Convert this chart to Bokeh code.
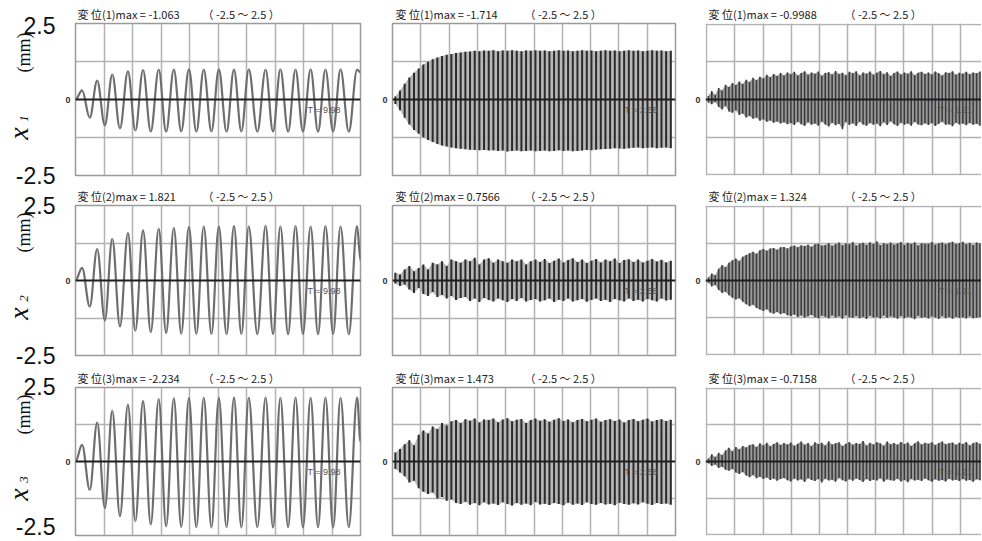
import numpy as np
from bokeh.plotting import figure
from bokeh.layouts import column, row
from bokeh.models import Range1d, FixedTicker, Label, Span, Grid, ColumnDataSource
from bokeh.core.properties import value
from bokeh.embed import file_html
from bokeh.resources import INLINE

# ---------------- data ----------------
subscripts = ["1", "2", "3"]
max_values = [["-1.063", "-1.714", "-0.9988"],
              ["1.821", "0.7566", "1.324"],
              ["-2.234", "1.473", "-0.7158"]]
range_text = "（ -2.5 ～ 2.5 ）"
t_labels = ["T = 9.98", "T = 2.58", "T = 1.21"]
y_top_label = "2.5"
y_bottom_label = "-2.5"

# column 1: times (s) of the extrema of the slow oscillation
col1_t = [0.0, 0.23, 0.50, 0.76, 1.03, 1.29, 1.56, 1.84, 2.10, 2.37, 2.64, 2.92, 3.18,
          3.45, 3.71, 3.98, 4.24, 4.50, 4.77, 5.03, 5.30, 5.56, 5.82, 6.08, 6.38, 6.67,
          6.93, 7.19, 7.46, 7.72, 7.98, 8.25, 8.51, 8.77, 9.04, 9.30, 9.59, 9.88, 10.0]
col1_x1 = [0, 0.30, -0.60, 0.62, -0.85, 0.82, -0.95, 0.93, -1.02, 0.97, -1.05, 0.98, -1.06,
           0.98, -1.05, 0.99, -1.06, 0.98, -1.05, 0.99, -1.06, 0.98, -1.05, 0.99, -1.06, 0.98,
           -1.05, 0.99, -1.06, 0.98, -1.05, 0.99, -1.06, 0.98, -1.05, 0.99, -1.06, 0.98, 0.90]
col1_x2 = [0, 0.42, -0.87, 1.05, -1.33, 1.39, -1.53, 1.58, -1.67, 1.67, -1.72, 1.72, -1.75,
           1.75, -1.77, 1.78, -1.78, 1.80, -1.78, 1.80, -1.79, 1.81, -1.78, 1.80, -1.79, 1.82,
           -1.78, 1.80, -1.79, 1.81, -1.78, 1.80, -1.79, 1.81, -1.78, 1.80, -1.79, 1.81, 0.67]
col1_x3 = [0, 0.56, -0.96, 1.31, -1.57, 1.71, -1.85, 1.91, -2.02, 2.04, -2.13, 2.11, -2.19,
           2.13, -2.21, 2.14, -2.22, 2.15, -2.23, 2.15, -2.22, 2.16, -2.23, 2.15, -2.22, 2.16,
           -2.23, 2.15, -2.22, 2.16, -2.23, 2.15, -2.22, 2.16, -2.23, 2.15, -2.22, 2.16, 0.67]

# column 2: per-cycle peaks / troughs (60 cycles)
col2_t = np.round(0.10 + 0.165 * np.arange(60), 3)
col2_x1_hi = [0.10, 0.30, 0.52, 0.72, 0.88, 1.02, 1.15, 1.24, 1.32, 1.38,
              1.43, 1.47, 1.50, 1.53, 1.55, 1.57, 1.58, 1.60, 1.59, 1.61,
              1.60, 1.62, 1.59, 1.61, 1.60, 1.62, 1.60, 1.59, 1.61, 1.60,
              1.62, 1.60, 1.61, 1.59, 1.60, 1.62, 1.60, 1.61, 1.59, 1.60,
              1.62, 1.60, 1.61, 1.59, 1.60, 1.62, 1.60, 1.61, 1.59, 1.60,
              1.62, 1.60, 1.61, 1.59, 1.60, 1.62, 1.60, 1.61, 1.59, 1.60]
col2_x1_lo = [-0.15, -0.35, -0.60, -0.82, -1.00, -1.13, -1.24, -1.33, -1.40, -1.46,
              -1.51, -1.55, -1.58, -1.60, -1.62, -1.64, -1.65, -1.66, -1.67, -1.66,
              -1.68, -1.67, -1.69, -1.68, -1.71, -1.69, -1.68, -1.70, -1.69, -1.68,
              -1.70, -1.69, -1.68, -1.70, -1.69, -1.67, -1.69, -1.68, -1.70, -1.69,
              -1.68, -1.66, -1.67, -1.65, -1.64, -1.63, -1.62, -1.60, -1.61, -1.62,
              -1.60, -1.59, -1.58, -1.60, -1.59, -1.58, -1.60, -1.59, -1.58, -1.60]
col2_x2_hi = [0.26, 0.20, 0.37, 0.48, 0.31, 0.42, 0.53, 0.37, 0.59, 0.53,
              0.64, 0.48, 0.70, 0.64, 0.59, 0.70, 0.64, 0.76, 0.53, 0.70,
              0.74, 0.59, 0.70, 0.64, 0.59, 0.70, 0.64, 0.70, 0.53, 0.64,
              0.70, 0.62, 0.72, 0.58, 0.66, 0.73, 0.60, 0.68, 0.74, 0.62,
              0.70, 0.58, 0.66, 0.72, 0.60, 0.70, 0.64, 0.73, 0.58, 0.68,
              0.71, 0.62, 0.70, 0.60, 0.66, 0.72, 0.63, 0.69, 0.60, 0.66]
col2_x2_lo = [-0.10, -0.18, -0.13, -0.30, -0.42, -0.25, -0.45, -0.52, -0.38, -0.55,
              -0.48, -0.60, -0.52, -0.65, -0.58, -0.55, -0.68, -0.60, -0.72, -0.58,
              -0.65, -0.70, -0.60, -0.66, -0.72, -0.62, -0.68, -0.58, -0.70, -0.65,
              -0.62, -0.70, -0.66, -0.60, -0.72, -0.64, -0.68, -0.60, -0.70, -0.66,
              -0.62, -0.71, -0.65, -0.60, -0.68, -0.64, -0.72, -0.62, -0.66, -0.70,
              -0.60, -0.68, -0.64, -0.70, -0.62, -0.66, -0.70, -0.60, -0.67, -0.64]
col2_x3_hi = [0.30, 0.42, 0.58, 0.72, 0.55, 0.90, 1.05, 0.95, 1.18, 1.10,
              1.30, 1.22, 1.36, 1.40, 1.30, 1.43, 1.38, 1.45, 1.32, 1.42,
              1.40, 1.45, 1.33, 1.42, 1.46, 1.36, 1.41, 1.44, 1.30, 1.40,
              1.45, 1.38, 1.43, 1.34, 1.41, 1.46, 1.37, 1.42, 1.33, 1.40,
              1.44, 1.36, 1.41, 1.45, 1.34, 1.40, 1.43, 1.37, 1.42, 1.32,
              1.40, 1.44, 1.36, 1.41, 1.45, 1.35, 1.40, 1.43, 1.37, 1.41]
col2_x3_lo = [-0.25, -0.37, -0.50, -0.71, -0.65, -0.90, -1.02, -1.10, -1.05, -1.25,
              -1.20, -1.33, -1.28, -1.40, -1.44, -1.36, -1.46, -1.40, -1.48, -1.38,
              -1.45, -1.42, -1.47, -1.38, -1.44, -1.49, -1.40, -1.46, -1.42, -1.48,
              -1.37, -1.45, -1.43, -1.47, -1.40, -1.44, -1.48, -1.39, -1.46, -1.42,
              -1.47, -1.38, -1.44, -1.46, -1.40, -1.45, -1.43, -1.48, -1.39, -1.44,
              -1.46, -1.41, -1.45, -1.38, -1.43, -1.47, -1.40, -1.44, -1.42, -1.46]

# column 3: per-cycle peaks / troughs (80 cycles)
col3_t = np.round(0.06 + 0.122 * np.arange(80), 3)
col3_x1_hi = [0.12, 0.28, 0.15, 0.38, 0.30, 0.49, 0.42, 0.55, 0.48, 0.60, 0.52, 0.66,
              0.58, 0.72, 0.64, 0.76, 0.70, 0.82, 0.74, 0.85, 0.78, 0.88, 0.80, 0.90,
              0.84, 0.92, 0.80, 0.88, 0.94, 0.82, 0.90, 0.86, 0.93, 0.79,
              0.88, 0.91, 0.83, 0.95, 0.85, 0.89, 0.81, 0.92, 0.87, 0.94,
              0.80, 0.90, 0.86, 0.93, 0.82, 0.89, 0.95, 0.84, 0.91, 0.78,
              0.88, 0.93, 0.83, 0.90, 0.86, 0.94, 0.81, 0.89, 0.92, 0.85,
              0.90, 0.83, 0.93, 0.87, 0.80, 0.91, 0.88, 0.94, 0.82, 0.89,
              0.86, 0.92, 0.84, 0.90, 0.87, 0.93]
col3_x1_lo = [-0.10, -0.16, -0.08, -0.25, -0.33, -0.22, -0.40, -0.44, -0.36, -0.52, -0.47, -0.60,
              -0.55, -0.64, -0.60, -0.71, -0.66, -0.74, -0.70, -0.77, -0.73, -0.80, -0.76, -0.82,
              -0.78, -0.85, -0.74, -0.82, -0.88, -0.76, -0.84, -0.80, -0.87, -0.73,
              -0.83, -0.90, -0.77, -0.86, -0.81, -0.99, -0.75, -0.85, -0.79, -0.88,
              -0.74, -0.83, -0.87, -0.78, -0.84, -0.80, -0.89, -0.76, -0.85, -0.72,
              -0.82, -0.88, -0.77, -0.84, -0.80, -0.87, -0.75, -0.83, -0.86, -0.79,
              -0.85, -0.78, -0.88, -0.81, -0.74, -0.84, -0.82, -0.89, -0.77, -0.83,
              -0.80, -0.86, -0.78, -0.84, -0.81, -0.87]
col3_x2_hi = [0.10, 0.24, 0.18, 0.40, 0.52, 0.45, 0.60, 0.68, 0.74, 0.66, 0.80, 0.86,
              0.92, 0.97, 0.90, 1.02, 1.06, 1.00, 1.08, 1.10, 1.04, 1.12, 1.13, 1.08,
              1.15, 1.18, 1.12, 1.19, 1.16, 1.21, 1.14, 1.22, 1.24, 1.18,
              1.20, 1.26, 1.17, 1.23, 1.28, 1.19, 1.25, 1.22, 1.30, 1.18,
              1.24, 1.27, 1.20, 1.29, 1.23, 1.32, 1.19, 1.26, 1.22, 1.28,
              1.21, 1.25, 1.30, 1.20, 1.27, 1.23, 1.29, 1.18, 1.26, 1.24,
              1.24, 1.30, 1.21, 1.26, 1.28, 1.22, 1.27, 1.31, 1.23, 1.26,
              1.31, 1.22, 1.27, 1.20, 1.28, 1.25]
col3_x2_lo = [-0.08, -0.20, -0.15, -0.32, -0.42, -0.38, -0.50, -0.58, -0.64, -0.60, -0.72, -0.80,
              -0.87, -0.82, -0.93, -0.98, -1.03, -0.97, -1.08, -1.12, -1.06, -1.14, -1.10, -1.17,
              -1.20, -1.15, -1.23, -1.18, -1.25, -1.21, -1.16, -1.24, -1.27, -1.19,
              -1.22, -1.28, -1.18, -1.25, -1.21, -1.29, -1.17, -1.24, -1.26, -1.20,
              -1.27, -1.22, -1.30, -1.19, -1.25, -1.23, -1.28, -1.18, -1.26, -1.21,
              -1.24, -1.29, -1.20, -1.27, -1.22, -1.25, -1.31, -1.19, -1.26, -1.23,
              -1.28, -1.21, -1.25, -1.30, -1.20, -1.27, -1.23, -1.29, -1.22, -1.26,
              -1.24, -1.28, -1.21, -1.27, -1.25, -1.23]
col3_x3_hi = [0.10, 0.25, 0.15, 0.30, 0.22, 0.38, 0.47, 0.35, 0.50, 0.42, 0.53, 0.48,
              0.56, 0.59, 0.50, 0.62, 0.55, 0.64, 0.52, 0.60, 0.66, 0.56, 0.63, 0.58,
              0.65, 0.54, 0.61, 0.68, 0.57, 0.63, 0.52, 0.66, 0.60, 0.64,
              0.55, 0.69, 0.58, 0.62, 0.66, 0.53, 0.61, 0.67, 0.57, 0.63,
              0.60, 0.70, 0.55, 0.64, 0.58, 0.66, 0.62, 0.54, 0.68, 0.59,
              0.63, 0.57, 0.67, 0.60, 0.65, 0.53, 0.62, 0.69, 0.58, 0.64,
              0.61, 0.66, 0.56, 0.63, 0.68, 0.59, 0.62, 0.65, 0.57, 0.64,
              0.60, 0.67, 0.55, 0.63, 0.66, 0.61]
col3_x3_lo = [-0.06, -0.15, -0.10, -0.22, -0.18, -0.28, -0.32, -0.26, -0.38, -0.43, -0.36, -0.48,
              -0.54, -0.46, -0.57, -0.52, -0.60, -0.55, -0.63, -0.58, -0.66, -0.60, -0.56, -0.64,
              -0.68, -0.58, -0.65, -0.61, -0.70, -0.57, -0.63, -0.67, -0.60, -0.72,
              -0.59, -0.65, -0.62, -0.69, -0.56, -0.64, -0.68, -0.61, -0.66, -0.58,
              -0.63, -0.70, -0.60, -0.67, -0.62, -0.65, -0.57, -0.69, -0.61, -0.64,
              -0.66, -0.59, -0.68, -0.63, -0.71, -0.60, -0.65, -0.62, -0.67, -0.58,
              -0.64, -0.69, -0.61, -0.66, -0.63, -0.68, -0.59, -0.65, -0.62, -0.67,
              -0.60, -0.66, -0.63, -0.69, -0.61, -0.64]

col1_vals = [col1_x1, col1_x2, col1_x3]
col2_hi = [col2_x1_hi, col2_x2_hi, col2_x3_hi]
col2_lo = [col2_x1_lo, col2_x2_lo, col2_x3_lo]
col3_hi = [col3_x1_hi, col3_x2_hi, col3_x3_hi]
col3_lo = [col3_x1_lo, col3_x2_lo, col3_x3_lo]

# ---------------- layout / style (pixels) ----------------
BLOCK_H = [188, 180, 172]          # height of each row block
STRIP_H = [22, 16, 18]             # header strip above the panels
PANEL_BOT = [13, 13, 5]            # bottom border of the panels
LABEL_W = 62
COL_W = [310, 318, 291]
COL_LEFT = [13, 20, 15]
COL_RIGHT = [12, 15, 0]
COL_XEND = [10.0, 10.0, 9.75]
HEAD_X0 = [77, 395, 708]           # header text positions (page px)
HEAD_X1 = [202, 524, 844]
# left label positions inside the row block (px from block top)
TOP_LBL_Y = [25, 17, 18]
BOT_LBL_Y = [175, 167, 158]
MM_Y = [52, 44, 46]
X_Y = [133, 125, 126]
SUB_Y = [118, 110, 111]

GRID_COLOR = "#b3b3b3"
FRAME_COLOR = "#9a9a9a"
CJK = "Noto Sans CJK JP"


def blank_fig(w, h, xr, yr):
    p = figure(width=w, height=h, x_range=xr, y_range=yr, x_axis_type=None,
               y_axis_type=None, tools="", toolbar_location=None,
               output_backend="svg", min_border=0)
    p.outline_line_color = None
    p.background_fill_color = "white"
    p.border_fill_color = "white"
    return p


def make_label_fig(r):
    h = BLOCK_H[r]
    p = blank_fig(LABEL_W, h, Range1d(0, LABEL_W), Range1d(h, 0))
    big = dict(text_font=value("Liberation Sans"), text_font_size=value("23px"),
               text_align="right", text_baseline="middle", text_color="#111111")
    p.text(x=[55], y=[TOP_LBL_Y[r]], text=[y_top_label], **big)
    p.text(x=[55], y=[BOT_LBL_Y[r]], text=[y_bottom_label], **big)
    p.text(x=[23], y=[MM_Y[r]], text=["(mm)"], angle=np.pi / 2,
           text_font=value("Liberation Serif"), text_font_size=value("18px"),
           text_align="center", text_baseline="middle", text_color="#111111")
    p.text(x=[18], y=[X_Y[r]], text=["x"], angle=np.pi / 2,
           text_font=value("Liberation Serif"), text_font_style="italic",
           text_font_size=value("28px"), text_align="center", text_baseline="middle",
           text_color="#111111")
    p.text(x=[23], y=[SUB_Y[r]], text=[subscripts[r]], angle=np.pi / 2,
           text_font=value("Liberation Serif"), text_font_style="italic",
           text_font_size=value("13px"), text_align="center", text_baseline="middle",
           text_color="#111111")
    return p


def make_strip(r):
    w = sum(COL_W)
    h = STRIP_H[r]
    p = blank_fig(w, h, Range1d(LABEL_W, LABEL_W + w), Range1d(h, 0))
    ty = h - 9
    heads = ["変 位(%d)max = %s" % (r + 1, max_values[r][c]) for c in range(3)]
    p.text(x=HEAD_X0, y=[ty] * 3, text=heads, text_font=value(CJK),
           text_font_size=value("11px"), text_align="left", text_baseline="middle",
           text_color="#222222")
    p.text(x=HEAD_X1, y=[ty] * 3, text=[range_text] * 3, text_font=value(CJK),
           text_font_size=value("11px"), text_align="left", text_baseline="middle",
           text_color="#222222")
    return p


def make_panel(r, c):
    if c < 2:
        xr = Range1d(0, COL_XEND[c])
        yr = Range1d(-2.5, 2.5)
    else:
        xr = Range1d(-0.04, COL_XEND[c])
        yr = Range1d(-2.53, 2.53)
    p = figure(width=COL_W[c], height=BLOCK_H[r] - STRIP_H[r], x_range=xr, y_range=yr,
               x_axis_type=None, tools="", toolbar_location=None,
               output_backend="svg",
               min_border_left=COL_LEFT[c], min_border_right=COL_RIGHT[c],
               min_border_top=1, min_border_bottom=PANEL_BOT[r])
    p.background_fill_color = "white"
    p.border_fill_color = "white"
    if c < 2:
        p.outline_line_color = FRAME_COLOR
        p.outline_line_width = 1.5
        xt = list(range(1, 10))
        yt = [-1.25, 1.25]
    else:
        p.outline_line_color = None
        xt = list(range(0, 10))
        yt = [-2.5, -1.25, 1.25, 2.5]

    # y axis: only the "0" label
    p.yaxis.ticker = FixedTicker(ticks=[0])
    p.yaxis.axis_line_color = None
    p.yaxis.major_tick_line_color = None
    p.yaxis.minor_tick_line_color = None
    p.yaxis.major_tick_out = 0
    p.yaxis.major_tick_in = 0
    p.yaxis.major_label_text_font_size = "9px"
    p.yaxis.major_label_text_font = "Liberation Sans"
    p.yaxis.major_label_text_font_style = "bold"
    p.yaxis.major_label_text_color = "#333333"
    p.yaxis.major_label_standoff = 5
    p.ygrid.ticker = FixedTicker(ticks=yt)
    p.ygrid.grid_line_color = GRID_COLOR
    p.ygrid.grid_line_width = 1.5
    p.add_layout(Grid(dimension=0, ticker=FixedTicker(ticks=xt),
                      grid_line_color=GRID_COLOR, grid_line_width=1.5))

    # waveform
    if c == 0:
        t = np.array(col1_t, dtype=float)
        v = np.array(col1_vals[r], dtype=float)
        d = np.diff(t)
        a = 0.3642
        src = ColumnDataSource(dict(x0=t[:-1], y0=v[:-1], x1=t[1:], y1=v[1:],
                                    cx0=t[:-1] + a * d, cy0=v[:-1],
                                    cx1=t[1:] - a * d, cy1=v[1:]))
        p.bezier(x0="x0", y0="y0", x1="x1", y1="y1", cx0="cx0", cy0="cy0",
                 cx1="cx1", cy1="cy1", source=src, line_color="#6e6e6e", line_width=2.2)
    else:
        if c == 1:
            t, hi, lo = col2_t, col2_hi[r], col2_lo[r]
            fill, bar, bw = "#b0b0b0", "#2b2b2b", 2.0
        else:
            t, hi, lo = col3_t, col3_hi[r], col3_lo[r]
            fill, bar, bw = "#8e8e8e", "#3a3a3a", 1.5
        src = ColumnDataSource(dict(t=t, hi=hi, lo=lo))
        p.varea(x="t", y1="lo", y2="hi", source=src, fill_color=fill, fill_alpha=0.9)
        p.segment(x0="t", y0="lo", x1="t", y1="hi", source=src,
                  line_color=bar, line_width=bw)

    # zero line
    p.add_layout(Span(location=0, dimension="width", line_color="#1e1e1e", line_width=2))

    # end-time marker
    p.add_layout(Label(x=0, y=0, x_offset=232, y_offset=-5, text_baseline="top",
                       text=t_labels[c], text_font="Liberation Sans",
                       text_font_size="9px", text_color="#555555"))
    return p


blocks = []
for r in range(3):
    panels = row(*[make_panel(r, c) for c in range(3)], spacing=0)
    right = column(make_strip(r), panels, spacing=0)
    blocks.append(row(make_label_fig(r), right, spacing=0))
layout = column(*blocks, spacing=0)

open("out.html", "w").write(file_html(layout, INLINE))
